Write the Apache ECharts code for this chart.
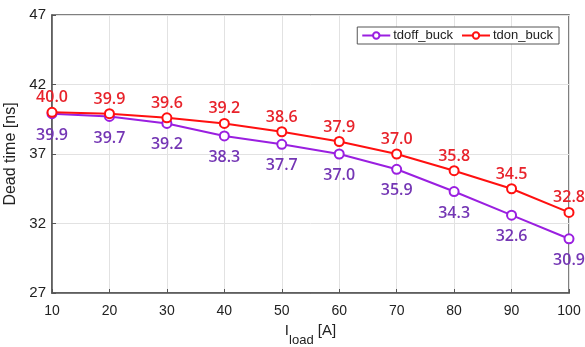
<!DOCTYPE html>
<html><head><meta charset="utf-8">
<script src="https://cdn.jsdelivr.net/npm/echarts@6/dist/echarts.min.js"></script>
<style>html,body{margin:0;padding:0;background:#fff}#c{width:585px;height:347px}</style>
</head><body><div id="c"></div>
<script>
const loads = [10, 20, 30, 40, 50, 60, 70, 80, 90, 100];
const tdoffBuck = [39.9, 39.7, 39.2, 38.3, 37.7, 37.0, 35.9, 34.3, 32.6, 30.9];
const tdonBuck = [40.0, 39.9, 39.6, 39.2, 38.6, 37.9, 37.0, 35.8, 34.5, 32.8];
const yTicks = [27, 32, 37, 42, 47];
const xTicks = [10, 20, 30, 40, 50, 60, 70, 80, 90, 100];

const purpleLine = '#9a1fe0';
const purpleText = '#7436b4';
const redLine = '#ff1010';
const redText = '#e8232b';
const font = 'Liberation Sans';
const labelFont = 'Open Sans';

const chart = echarts.init(document.getElementById('c'), null, {renderer: 'canvas'});
chart.setOption({
  animation: false,
  backgroundColor: '#fff',
  grid: {left: 52, right: 16, top: 15, bottom: 54, show: true, borderColor: '#555', borderWidth: 1.5,
    backgroundColor: 'transparent', containLabel: false, outerBoundsMode: 'none'},
  legend: {
    right: 26, top: 27,
    orient: 'horizontal',
    backgroundColor: '#fff',
    borderColor: '#555', borderWidth: 1, borderRadius: 0,
    padding: [2, 6, 2, 4],
    itemGap: 8, itemWidth: 28, itemHeight: 8,
    textStyle: {fontFamily: font, fontSize: 13, color: '#222', padding: [0, 0, 0, -2]},
    data: ['tdoff_buck', 'tdon_buck']
  },
  xAxis: {
    type: 'value', min: 10, max: 100, interval: 10,
    axisLine: {show: true, lineStyle: {color: '#555', width: 1.5}},
    axisTick: {show: true, inside: true, length: 4, lineStyle: {color: '#555'}},
    axisLabel: {fontFamily: font, fontSize: 14, color: '#222', margin: 11, customValues: xTicks},
    splitLine: {show: true, lineStyle: {color: '#e2e2e2', width: 1}},
    name: '{m|I}{s|load}{m| [A]}', nameLocation: 'middle', nameGap: 38,
    nameTextStyle: {verticalAlign: 'middle', rich: {
      m: {fontFamily: font, fontSize: 15, color: '#222', lineHeight: 24, verticalAlign: 'top'},
      s: {fontFamily: font, fontSize: 13, color: '#222', lineHeight: 24, verticalAlign: 'bottom'}
    }}
  },
  yAxis: {
    type: 'value', min: 27, max: 47, interval: 5,
    axisLine: {show: true, lineStyle: {color: '#555', width: 1.5}},
    axisTick: {show: true, inside: true, length: 4, lineStyle: {color: '#555'}, customValues: yTicks},
    axisLabel: {fontFamily: font, fontSize: 15, color: '#222', margin: 6, customValues: yTicks},
    splitLine: {show: true, lineStyle: {color: '#e2e2e2', width: 1}},
    name: 'Dead time [ns]', nameLocation: 'middle', nameGap: 27, nameRotate: 90,
    nameTextStyle: {fontFamily: font, fontSize: 16, color: '#222'}
  },
  series: [
    {
      name: 'tdoff_buck', type: 'line',
      data: loads.map((x, i) => [x, tdoffBuck[i]]),
      symbol: 'circle', symbolSize: 9, showAllSymbol: true,
      lineStyle: {color: purpleLine, width: 2},
      itemStyle: {color: '#fff', borderColor: purpleLine, borderWidth: 2},
      label: {show: true, position: 'bottom', distance: 8, color: purpleText, fontFamily: labelFont, fontSize: 16, fontWeight: 600,
        formatter: p => p.value[1].toFixed(1)},
      z: 3
    },
    {
      name: 'tdon_buck', type: 'line',
      data: loads.map((x, i) => [x, tdonBuck[i]]),
      symbol: 'circle', symbolSize: 9, showAllSymbol: true,
      lineStyle: {color: redLine, width: 2},
      itemStyle: {color: '#fff', borderColor: redLine, borderWidth: 2},
      label: {show: true, position: 'top', distance: 1, color: redText, fontFamily: labelFont, fontSize: 16, fontWeight: 600,
        formatter: p => p.value[1].toFixed(1)},
      z: 4
    }
  ]
});
</script></body></html>
